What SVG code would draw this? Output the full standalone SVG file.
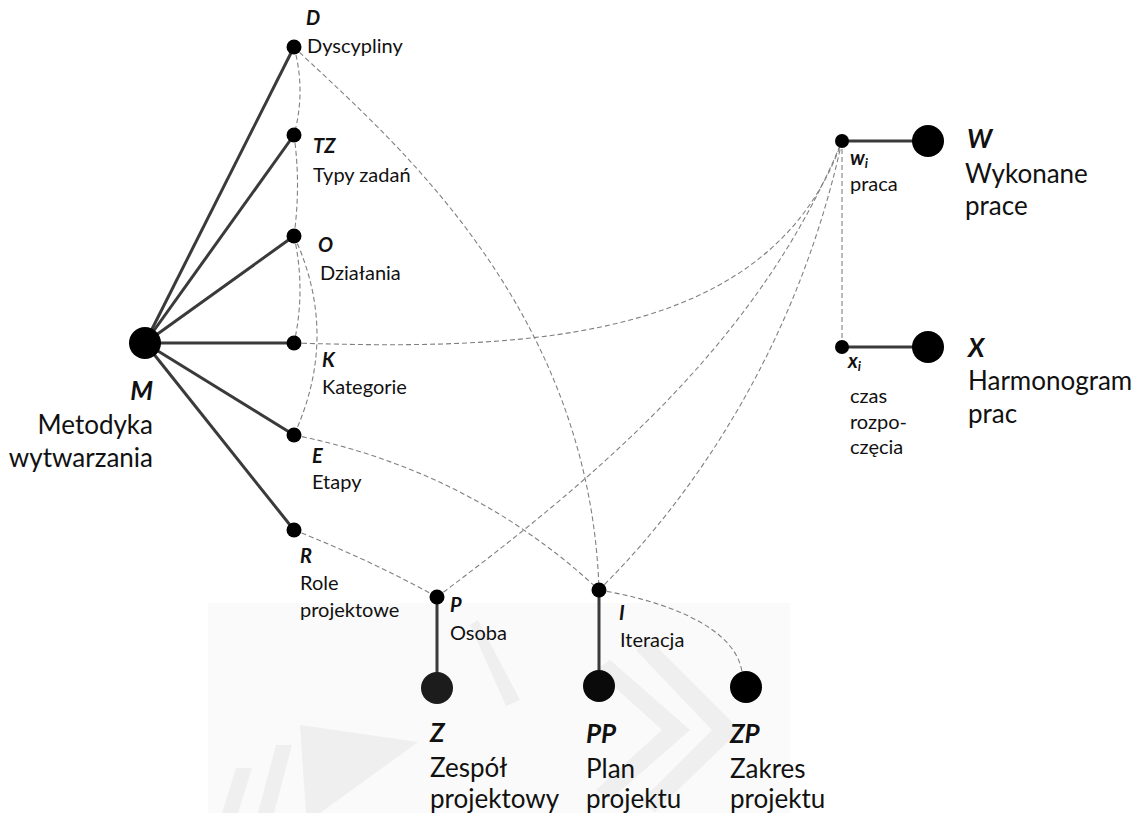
<svg xmlns="http://www.w3.org/2000/svg" width="1146" height="813" viewBox="0 0 1146 813">
  <style>
    .solid { stroke: #3a3a3a; stroke-width: 3; fill: none; }
    .dash { stroke: #808080; stroke-width: 1.1; stroke-dasharray: 5 3; fill: none; }
    .dot { fill: #000; }
    .t { font-family: Lato, "Open Sans", "Noto Sans", sans-serif; font-size: 20px; fill: #111; }
    .big { font-size: 26px; }
    .sym { font-weight: bold; font-style: italic; }
    .sub { font-size: 13px; }
    .end { text-anchor: end; }
    .wm { fill: #efefef; }
  </style>

  <rect width="1146" height="813" fill="#fff"/>

  <!-- faint background panel with watermark strokes -->
  <g id="watermark">
    <rect x="208" y="603" width="582" height="210" fill="#fafafa"/>
    <polygon class="wm" points="222,813 236,768 252,768 238,813"/>
    <polygon class="wm" points="258,813 276,745 292,745 274,813"/>
    <polygon class="wm" points="300,725 418,742 320,813 306,813"/>
    <polygon class="wm" points="470,625 478,620 520,700 506,706"/>
    <polygon class="wm" points="610,660 690,730 610,800 596,790 662,730 596,670"/>
    <polygon class="wm" points="650,640 740,730 655,812 640,802 712,730 636,650"/>
  </g>

  <g id="connectors">
    <!-- methodology spokes -->
    <line class="solid" x1="145" y1="343" x2="294" y2="47"/>
    <line class="solid" x1="145" y1="343" x2="294" y2="135"/>
    <line class="solid" x1="145" y1="343" x2="294" y2="236"/>
    <line class="solid" x1="145" y1="343" x2="294" y2="343"/>
    <line class="solid" x1="145" y1="343" x2="294" y2="435"/>
    <line class="solid" x1="145" y1="343" x2="294" y2="530"/>
    <!-- element to set links -->
    <line class="solid" x1="437" y1="597" x2="437" y2="688"/>
    <line class="solid" x1="599" y1="590" x2="599" y2="686"/>
    <line class="solid" x1="842" y1="141" x2="928" y2="141"/>
    <line class="solid" x1="842" y1="347" x2="928" y2="347"/>
    <!-- dependencies -->
    <path class="dash" d="M294,47 Q306,91 294,135"/>
    <path class="dash" d="M294,135 Q301,185 294,236"/>
    <path class="dash" d="M294,236 Q306,290 294,343"/>
    <path class="dash" d="M294,236 Q340,335 294,435"/>
    <path class="dash" d="M294,47 C380,130 590,300 599,590"/>
    <path class="dash" d="M294,343 C520,350 770,345 842,141"/>
    <path class="dash" d="M294,435 Q470,470 599,590"/>
    <path class="dash" d="M294,530 Q370,560 437,597"/>
    <path class="dash" d="M437,597 C600,475 760,340 842,141"/>
    <path class="dash" d="M599,590 C660,530 790,380 842,141"/>
    <path class="dash" d="M842,141 L842,347"/>
    <path class="dash" d="M599,590 C660,600 735,625 742,672"/>
  </g>

  <g id="node-M">
    <circle class="dot" cx="145" cy="343" r="16"/>
    <text class="t big sym end" x="153" y="400">M</text>
    <text class="t big end" x="153" y="434">Metodyka</text>
    <text class="t big end" x="153" y="467">wytwarzania</text>
  </g>
  <g id="node-D">
    <circle class="dot" cx="294" cy="47" r="7.5"/>
    <text class="t sym" x="306" y="25">D</text>
    <text class="t" x="307" y="53">Dyscypliny</text>
  </g>
  <g id="node-TZ">
    <circle class="dot" cx="294" cy="135" r="7.5"/>
    <text class="t sym" x="313" y="153">TZ</text>
    <text class="t" x="313" y="182">Typy zadań</text>
  </g>
  <g id="node-O">
    <circle class="dot" cx="294" cy="236" r="7.5"/>
    <text class="t sym" x="318" y="252">O</text>
    <text class="t" x="320" y="280">Działania</text>
  </g>
  <g id="node-K">
    <circle class="dot" cx="294" cy="343" r="7.5"/>
    <text class="t sym" x="322" y="367">K</text>
    <text class="t" x="322" y="394">Kategorie</text>
  </g>
  <g id="node-E">
    <circle class="dot" cx="294" cy="435" r="7.5"/>
    <text class="t sym" x="312" y="463">E</text>
    <text class="t" x="312" y="489">Etapy</text>
  </g>
  <g id="node-R">
    <circle class="dot" cx="294" cy="530" r="7.5"/>
    <text class="t sym" x="300" y="563">R</text>
    <text class="t" x="300" y="590">Role</text>
    <text class="t" x="300" y="617">projektowe</text>
  </g>
  <g id="node-P">
    <circle class="dot" cx="437" cy="597" r="7.5"/>
    <text class="t sym" x="450" y="612">P</text>
    <text class="t" x="450" y="640">Osoba</text>
  </g>
  <g id="node-I">
    <circle class="dot" cx="599" cy="590" r="7.5"/>
    <text class="t sym" x="619" y="620">I</text>
    <text class="t" x="620" y="647">Iteracja</text>
  </g>
  <g id="node-wi">
    <circle class="dot" cx="842" cy="141" r="7"/>
    <text class="t sym" x="850" y="165">w<tspan class="sub" dy="3">i</tspan></text>
    <text class="t" x="850" y="191">praca</text>
  </g>
  <g id="node-xi">
    <circle class="dot" cx="842" cy="347" r="7"/>
    <text class="t sym" x="848" y="368">x<tspan class="sub" dy="3">i</tspan></text>
    <text class="t" x="850" y="403">czas</text>
    <text class="t" x="850" y="429">rozpo-</text>
    <text class="t" x="850" y="454">częcia</text>
  </g>
  <g id="node-W">
    <circle class="dot" cx="928" cy="141" r="16"/>
    <text class="t big sym" x="967" y="148">W</text>
    <text class="t big" x="965" y="183">Wykonane</text>
    <text class="t big" x="965" y="215">prace</text>
  </g>
  <g id="node-X">
    <circle class="dot" cx="928" cy="347" r="16"/>
    <text class="t big sym" x="968" y="357">X</text>
    <text class="t big" x="968" y="390">Harmonogram</text>
    <text class="t big" x="968" y="423">prac</text>
  </g>
  <g id="node-Z">
    <circle cx="437" cy="688" r="16" fill="#1c1c1c"/>
    <text class="t big sym" x="430" y="742">Z</text>
    <text class="t big" x="430" y="777">Zespół</text>
    <text class="t big" x="430" y="808">projektowy</text>
  </g>
  <g id="node-PP">
    <circle cx="599" cy="686" r="16" fill="#0a0a0a"/>
    <text class="t big sym" x="586" y="743">PP</text>
    <text class="t big" x="586" y="778">Plan</text>
    <text class="t big" x="586" y="808">projektu</text>
  </g>
  <g id="node-ZP">
    <circle class="dot" cx="746" cy="687" r="16"/>
    <text class="t big sym" x="730" y="743">ZP</text>
    <text class="t big" x="730" y="778">Zakres</text>
    <text class="t big" x="730" y="808">projektu</text>
  </g>
</svg>
